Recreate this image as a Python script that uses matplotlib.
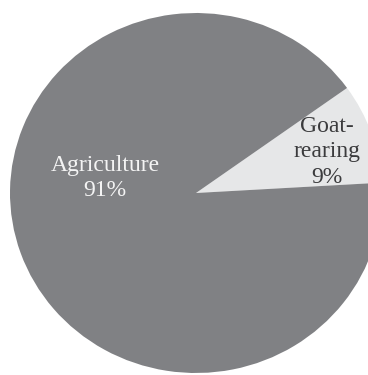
import matplotlib.pyplot as plt

# livelihood shares
labels = ['Goat-\nrearing', 'Agriculture']
shares = [9, 91]
colors = ['#e6e7e8', '#808184']

fig = plt.figure(figsize=(3.68, 3.75), dpi=100)
ax = fig.add_axes([0, 0, 1, 1])

wedges, _ = ax.pie(shares, colors=colors, startangle=3.3, counterclock=True,
                   radius=1.0, center=(0, 0),
                   wedgeprops=dict(linewidth=0))

# centre at (196, 193) px from top-left; 186 px/unit across, 180 px/unit down
sx, sy = 186, 180
ax.set_xlim(-196 / sx, (368 - 196) / sx)
ax.set_ylim(-(375 - 193) / sy, 193 / sy)
ax.set_aspect('auto')
ax.axis('off')

font = dict(family='Liberation Serif', fontsize=17, ha='center', va='center',
            linespacing=1.28)
ax.text(-0.489, 0.083, '%s\n%d%%' % (labels[1], shares[1]), color='#f4f4f4', **font)
ax.text(0.704, 0.228, '%s\n%d%%' % (labels[0], shares[0]), color='#3b3b3d', **font)

fig.savefig('out.png', dpi=100)
